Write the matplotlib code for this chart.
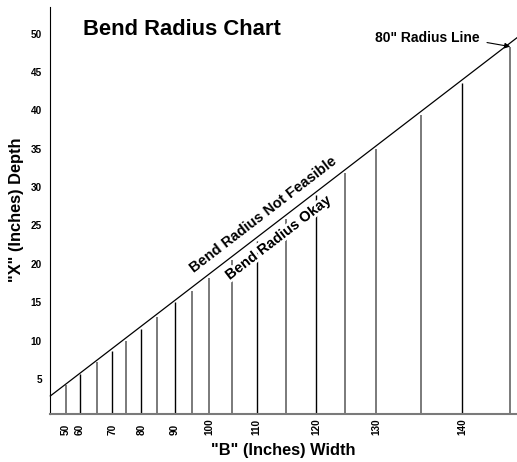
import numpy as np
import matplotlib
matplotlib.use("Agg")
import matplotlib.pyplot as plt
import matplotlib.patheffects as pe

plt.rcParams['font.family'] = ['Liberation Sans', 'DejaVu Sans']
plt.rcParams['font.weight'] = 'bold'

# "B" width of each bar (inches)
widths = [50, 60, 65, 70, 75, 80, 85, 90, 95, 100, 105, 110, 115, 120, 125, 130, 135, 140, 145]
# depth where each width meets the 80" radius line (sets the bar's place on the x axis)
line_depth = [4.35, 5.76, 7.43, 8.98, 10.35, 11.88, 13.48, 15.27, 16.92, 18.68,
              20.97, 23.41, 26.31, 29.40, 32.23, 35.40, 39.83, 43.96, 48.79]
# "X" depth drawn for each bar (inches)
bar_depth = [4.2, 5.6, 7.2, 8.6, 10.0, 11.5, 13.1, 15.0, 16.5, 18.2,
             20.5, 23.0, 25.9, 29.0, 31.8, 35.0, 39.4, 43.5, 48.3]
# widths that get a tick label / drawn in black
labeled = [50, 60, 70, 80, 90, 100, 110, 120, 130, 140]
black_bars = [60, 70, 80, 90, 110, 120, 140]
y_ticks = [5, 10, 15, 20, 25, 30, 35, 40, 45, 50]

fig = plt.figure(figsize=(5.17, 4.62), dpi=100)
ax = fig.add_axes([0.0973, 0.1045, 0.9027, 0.881])
ax.set_xlim(2.79, 49.46)
ax.set_ylim(0.48, 53.5)

# bars
for w, x, d in zip(widths, line_depth, bar_depth):
    if w in black_bars:
        ax.vlines(x, 0, d, color='black', lw=1.0, zorder=2)
    else:
        ax.vlines(x, 0, d, color='#7a7a7a', lw=1.4, zorder=2)

# the 80" radius line (depth == position along the line)
xl = np.array(ax.get_xlim())
ax.plot(xl, xl, color='black', lw=0.9, zorder=3, clip_on=False)

# angle of the line on screen
p = ax.transData.transform([[10, 10], [40, 40]])
ang = np.degrees(np.arctan2(p[1, 1] - p[0, 1], p[1, 0] - p[0, 0]))

ax.text(24.1, 26.4, 'Bend Radius Not Feasible', rotation=ang, rotation_mode='anchor',
        ha='center', va='center', fontsize=10.5, fontweight='bold', zorder=4)
ax.text(25.6, 23.4, 'Bend Radius Okay', rotation=ang, rotation_mode='anchor',
        ha='center', va='center', fontsize=10.5, fontweight='bold', zorder=4,
        path_effects=[pe.withStroke(linewidth=4, foreground='white')])

# 80" radius line callout
ax.text(45.76, 49.45, '80" Radius Line', ha='right', va='center', fontsize=10, fontweight='bold')
ax.annotate('', xy=(line_depth[-1], bar_depth[-1]), xytext=(46.46, 48.83),
            arrowprops=dict(arrowstyle='-|>', color='black', lw=0.8, mutation_scale=8,
                            shrinkA=0, shrinkB=0), annotation_clip=False)

# axes styling
for s in ['top', 'right']:
    ax.spines[s].set_visible(False)
ax.spines['left'].set_color('black')
ax.spines['left'].set_linewidth(0.8)
ax.spines['bottom'].set_color('#7a7a7a')
ax.spines['bottom'].set_linewidth(1.5)

ax.set_yticks(y_ticks)
ax.set_yticklabels([str(v) for v in y_ticks], fontsize=7.2, fontweight='bold')
ax.tick_params(axis='y', length=0, pad=6)

tick_pos = [x for w, x in zip(widths, line_depth) if w in labeled]
ax.set_xticks(tick_pos)
ax.set_xticklabels([str(w) for w in widths if w in labeled], fontsize=7.2, fontweight='bold')
ax.tick_params(axis='x', length=0, pad=15.3)
for lab in ax.get_xticklabels():
    lab.set_rotation(90)
    lab.set_va('bottom')

ax.set_xlabel('"B" (Inches) Width', fontsize=11.8, fontweight='bold')
ax.xaxis.set_label_coords(0.5, -0.072)
ax.set_ylabel('"X" (Inches) Depth', fontsize=11.8, fontweight='bold')
ax.yaxis.set_label_coords(-0.0574, 0.5)

fig.text(83.3 / 517, 1 - 35 / 462, 'Bend Radius Chart', fontsize=15.8, fontweight='bold',
         ha='left', va='baseline')

fig.savefig('out.png', dpi=100)
